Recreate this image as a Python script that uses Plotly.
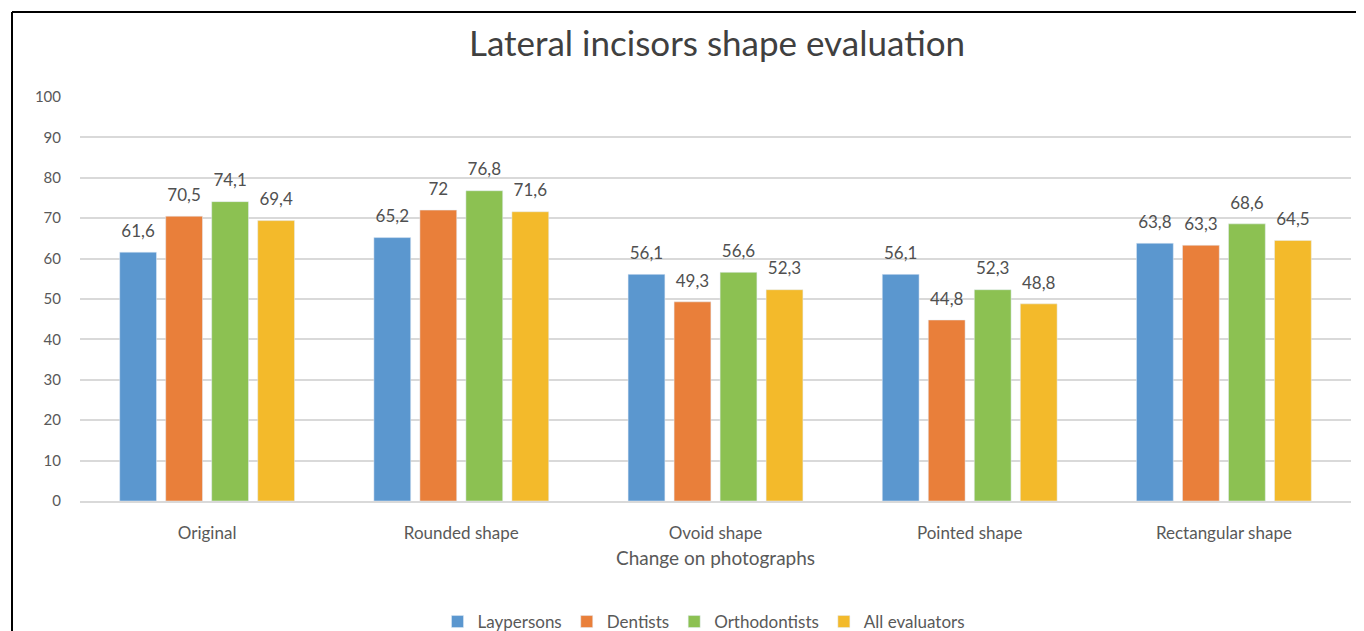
import plotly.graph_objects as go

categories = ["Original", "Rounded shape", "Ovoid shape", "Pointed shape", "Rectangular shape"]
series_names = ["Laypersons", "Dentists", "Orthodontists", "All evaluators"]
laypersons = [61.6, 65.2, 56.1, 56.1, 63.8]
dentists = [70.5, 72.0, 49.3, 44.8, 63.3]
orthodontists = [74.1, 76.8, 56.6, 52.3, 68.6]
all_evaluators = [69.4, 71.6, 52.3, 48.8, 64.5]
y_ticks = [0, 10, 20, 30, 40, 50, 60, 70, 80, 90, 100]

colors = ["#5B97CF", "#E97F3A", "#8CC152", "#F3BA2B"]
series_values = [laypersons, dentists, orthodontists, all_evaluators]


def fmt(v):
    if float(v).is_integer():
        return str(int(v))
    return f"{v}".replace(".", ",")


fig = go.Figure()
for i, (name, vals, col) in enumerate(zip(series_names, series_values, colors)):
    fig.add_trace(go.Bar(
        name=name, x=categories, y=vals, marker_color=col,
        offsetgroup=str(i), alignmentgroup="a",
    ))
for i, (name, vals) in enumerate(zip(series_names, series_values)):
    fig.add_trace(go.Scatter(
        x=categories, y=vals, mode="markers+text", text=[fmt(v) for v in vals],
        textposition="top center", textfont=dict(size=17, color="#505050"),
        marker=dict(size=16, opacity=0), offsetgroup=str(i), alignmentgroup="a",
        showlegend=False, hoverinfo="skip", cliponaxis=False,
    ))

# the page body has an 8px margin, so figure coords = screen coords - 8
W, H = 1348, 623
l, r, t, b = 72, 5, 89, 130
pw, ph = W - l - r, H - t - b

fig.update_layout(
    width=W, height=H,
    margin=dict(l=l, r=r, t=t, b=b, autoexpand=False),
    paper_bgcolor="white", plot_bgcolor="white",
    font=dict(family="Lato, Open Sans, sans-serif", color="#595959"),
    title=dict(text="Lateral incisors shape evaluation", x=(717 - 8) / W, xanchor="center",
               xref="container", yref="container",
               y=1 - (44 - 8) / H, yanchor="middle",
               font=dict(size=35, color="#404040")),
    barmode="group", bargap=0.276, bargroupgap=0.2,
    scattermode="group", scattergap=0.276,
    legend=dict(orientation="h", xref="container", yref="container",
                x=(704 - 8) / W, xanchor="center", y=1 - (622 - 8) / H, yanchor="middle",
                font=dict(size=17, color="#595959"), traceorder="normal", itemwidth=30),
    showlegend=True,
)
fig.update_yaxes(range=[0, 100], tickvals=y_ticks, showgrid=True, gridcolor="#D9D9D9",
                 gridwidth=1.5, zeroline=False, tickfont=dict(size=15, color="#595959"),
                 ticks="", ticklabelstandoff=18, showline=False)
fig.update_xaxes(showline=True, linecolor="#D9D9D9", linewidth=1.5,
                 tickfont=dict(size=17, color="#595959"), ticks="", ticklabelstandoff=16,
                 title=dict(text="Change on photographs", font=dict(size=19, color="#595959"),
                            standoff=10))

# border (left and top edges of the figure frame)
bx = (12 - 8 - l) / pw
by = (H - b - (12 - 8)) / ph
fig.add_shape(type="line", xref="paper", yref="paper",
              x0=bx, x1=bx, y0=by, y1=-(b + 20) / ph,
              line=dict(color="black", width=2))
fig.add_shape(type="line", xref="paper", yref="paper",
              x0=bx, x1=(W + 20 - l) / pw, y0=by, y1=by,
              line=dict(color="black", width=2))

fig.write_html("out.html")
